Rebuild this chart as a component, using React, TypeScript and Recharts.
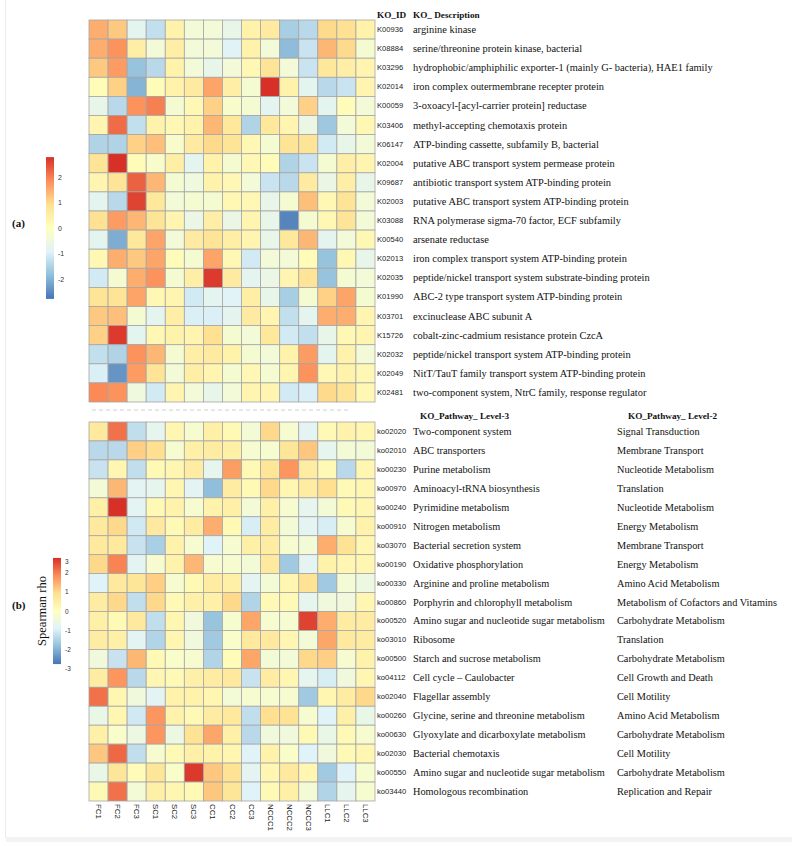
import React from 'react';
import { ScatterChart, Scatter, XAxis, YAxis } from 'recharts';

const samples = ['FC1', 'FC2', 'FC3', 'SC1', 'SC2', 'SC3', 'CC1', 'CC2', 'CC3', 'NCCC1', 'NCCC2', 'NCCC3', 'LLC1', 'LLC2', 'LLC3'];

const koIds = ['K00936', 'K08884', 'K03296', 'K02014', 'K00059', 'K03406', 'K06147', 'K02004', 'K09687', 'K02003', 'K03088', 'K00540', 'K02013', 'K02035', 'K01990', 'K03701', 'K15726', 'K02032', 'K02049', 'K02481'];

const koDescriptions = [
  'arginine kinase',
  'serine/threonine protein kinase, bacterial',
  'hydrophobic/amphiphilic exporter-1 (mainly G- bacteria), HAE1 family',
  'iron complex outermembrane recepter protein',
  '3-oxoacyl-[acyl-carrier protein] reductase',
  'methyl-accepting chemotaxis protein',
  'ATP-binding cassette, subfamily B, bacterial',
  'putative ABC transport system permease protein',
  'antibiotic transport system ATP-binding protein',
  'putative ABC transport system ATP-binding protein',
  'RNA polymerase sigma-70 factor, ECF subfamily',
  'arsenate reductase',
  'iron complex transport system ATP-binding protein',
  'peptide/nickel transport system substrate-binding protein',
  'ABC-2 type transport system ATP-binding protein',
  'excinuclease ABC subunit A',
  'cobalt-zinc-cadmium resistance protein CzcA',
  'peptide/nickel transport system ATP-binding protein',
  'NitT/TauT family transport system ATP-binding protein',
  'two-component system, NtrC family, response regulator',
];

const koRows: number[][] = [
  [1.5, 1.2, -0.8, -1.3, 0.4, -0.4, -0.4, -0.7, 0.4, 0.6, -1.6, -1.4, 1.0, 0.9, 0.4],
  [1.5, 1.8, 0.5, -0.4, 0.5, -0.4, -0.4, -0.9, 0.4, -0.4, -1.9, -1.2, 1.4, 1.0, -0.3],
  [1.2, 1.7, -1.8, -1.4, 0.4, -0.4, -0.7, -0.4, 0.2, 0.8, -0.4, -1.2, 0.7, 0.5, 0.3],
  [0.1, 1.1, -2.0, 0.1, 0.4, 0.6, 1.6, 0.5, -0.3, 2.8, 0.4, -0.8, -1.4, -1.2, 0.3],
  [-0.7, -1.4, 1.8, 2.0, -0.3, 0.2, 1.1, -0.2, -0.3, -0.8, -0.4, 1.1, -0.8, 0.1, -0.4],
  [0.3, 2.2, -1.3, 0.4, 0.2, 0.4, 1.4, 0.7, -1.5, 0.7, 0.3, -0.6, -1.7, -0.4, 0.2],
  [-1.5, -1.5, 1.1, 1.3, -0.2, 0.6, 1.0, 0.8, 0.2, -0.3, 0.8, 0.8, -1.1, -0.7, -0.4],
  [0.8, 2.8, 0.1, -0.2, 0.5, -0.8, 0.4, -0.3, 0.2, 0.1, -1.5, -1.2, -0.3, 0.5, 0.3],
  [0.3, 0.8, 2.3, 1.4, -0.3, -0.5, 0.4, 0.2, -0.4, -1.2, -1.4, 0.6, -0.6, 0.5, -0.7],
  [-0.8, -1.4, 2.6, 0.7, -0.4, -0.3, -0.3, 0.2, 0.2, -0.7, -0.3, 1.3, 0.2, 0.8, -0.4],
  [0.9, 1.7, 1.4, 0.8, 0.3, -0.6, 0.5, -0.6, 0.3, -0.7, -2.6, -0.3, 0.2, 0.8, -0.4],
  [-0.8, -2.1, 0.7, 1.6, -0.4, 0.6, 0.8, 0.5, 0.3, -0.7, 0.7, 1.4, -0.8, -0.4, 0.2],
  [0.2, 1.5, 1.2, 1.6, 0.1, -0.3, 1.6, 0.2, -1.1, -0.4, -0.4, 0.1, -1.8, 0.2, -0.7],
  [-1.1, -0.3, 1.5, 1.8, -0.3, 0.5, 2.7, 0.6, -0.8, -0.6, 0.3, 0.8, -1.8, -0.3, -0.4],
  [0.8, 0.8, 1.6, 0.2, 0.3, -1.1, -0.8, -0.9, 0.5, -0.7, -1.6, -0.3, 1.1, 1.6, -0.3],
  [1.2, 1.3, -0.3, -0.8, 0.5, -1.0, -1.0, -0.8, 0.6, 0.3, -1.3, -0.8, 1.5, 1.5, 0.3],
  [1.1, 2.7, -0.8, 0.2, 0.4, 0.3, 0.9, -0.3, -0.4, 0.7, -1.1, -1.3, -0.7, 0.2, 0.3],
  [-1.3, -1.5, 1.8, 1.4, -0.3, 0.5, 0.6, 0.4, -0.3, -0.4, 0.4, 1.7, -0.8, 0.4, -0.4],
  [-1.0, -2.4, 1.7, 0.8, -0.4, 0.5, 0.3, -0.3, 0.2, -0.3, 0.3, 1.8, 0.2, 0.4, 0.2],
  [1.9, 1.8, -0.5, -1.1, 0.3, -0.4, -0.7, -0.4, 0.3, 0.3, -1.1, -1.0, 1.0, 0.8, 0.2],
];

const pathwayIds = ['ko02020', 'ko02010', 'ko00230', 'ko00970', 'ko00240', 'ko00910', 'ko03070', 'ko00190', 'ko00330', 'ko00860', 'ko00520', 'ko03010', 'ko00500', 'ko04112', 'ko02040', 'ko00260', 'ko00630', 'ko02030', 'ko00550', 'ko03440'];

const pathwayLevel3 = [
  'Two-component system',
  'ABC transporters',
  'Purine metabolism',
  'Aminoacyl-tRNA biosynthesis',
  'Pyrimidine metabolism',
  'Nitrogen metabolism',
  'Bacterial secretion system',
  'Oxidative phosphorylation',
  'Arginine and proline metabolism',
  'Porphyrin and chlorophyll metabolism',
  'Amino sugar and nucleotide sugar metabolism',
  'Ribosome',
  'Starch and sucrose metabolism',
  'Cell cycle \u2013 Caulobacter',
  'Flagellar assembly',
  'Glycine, serine and threonine metabolism',
  'Glyoxylate and dicarboxylate metabolism',
  'Bacterial chemotaxis',
  'Amino sugar and nucleotide sugar metabolism',
  'Homologous recombination',
];

const pathwayLevel2 = [
  'Signal Transduction',
  'Membrane Transport',
  'Nucleotide Metabolism',
  'Translation',
  'Nucleotide Metabolism',
  'Energy Metabolism',
  'Membrane Transport',
  'Energy Metabolism',
  'Amino Acid Metabolism',
  'Metabolism of Cofactors and Vitamins',
  'Carbohydrate Metabolism',
  'Translation',
  'Carbohydrate Metabolism',
  'Cell Growth and Death',
  'Cell Motility',
  'Amino Acid Metabolism',
  'Carbohydrate Metabolism',
  'Cell Motility',
  'Carbohydrate Metabolism',
  'Replication and Repair',
];

const pathwayRows: number[][] = [
  [0.7, 2.3, -1.4, -0.8, 0.3, -0.3, 0.5, 0.2, -0.4, 1.1, -0.3, -0.9, 0.2, 0.4, 0.3],
  [-1.5, -1.5, 1.2, 1.0, -0.3, 0.5, 0.6, 0.5, -0.3, -0.3, 0.8, 1.3, -0.8, -0.4, -0.4],
  [-1.3, 0.3, -1.4, 0.2, 0.3, 0.6, -0.8, 1.8, 0.2, 0.8, 1.9, 0.6, 0.2, -1.5, 0.3],
  [-0.4, 1.5, -0.9, -0.8, 0.3, -0.9, -2.0, 0.6, 0.2, 1.1, 0.3, 0.6, 1.0, 0.2, 0.3],
  [0.5, 3.0, -0.9, 0.2, 0.4, -0.3, 0.4, 0.5, -0.4, 0.5, -0.3, -0.8, -0.4, 0.2, 0.3],
  [0.7, 1.1, -1.2, 0.7, 0.2, 0.6, 1.6, 0.2, -1.1, 0.6, -0.4, -0.9, -1.1, -0.3, 0.4],
  [0.7, 0.7, -1.3, -1.7, 0.4, -0.3, -1.0, -0.3, 0.5, 0.6, -0.3, -0.4, 1.6, 0.9, 0.3],
  [1.1, 2.1, -0.9, -0.3, 0.4, 1.5, -0.3, -0.3, -0.4, 0.7, -1.8, -0.9, 0.4, 0.3, 0.3],
  [-1.0, 0.7, 0.8, 1.2, -0.3, 0.2, 0.6, 0.5, -0.9, -0.4, 0.3, 0.9, -1.8, -0.4, -0.6],
  [0.6, 1.1, -1.4, 1.1, 0.2, 0.5, 0.5, 1.1, -1.6, 0.2, 0.2, -0.8, -0.5, -0.5, 0.3],
  [0.5, 0.2, 0.7, -1.4, 0.3, -0.5, -1.9, -0.3, 1.7, -0.3, -0.3, 2.8, 1.6, 0.6, 0.6],
  [0.6, 0.5, -0.9, -1.6, 0.3, -0.5, -1.8, -0.2, 0.7, 0.7, 0.3, -0.4, 1.7, 0.7, 0.6],
  [-0.5, -1.3, 1.5, 0.2, -0.2, -0.3, -1.6, 0.1, 1.7, -0.4, -0.4, 1.1, 1.2, -0.3, 0.4],
  [0.6, 1.9, -1.5, 0.3, 0.2, 0.5, 0.6, 0.7, -1.3, 0.6, 0.3, -0.8, -1.1, -0.5, 0.3],
  [2.3, 0.3, -0.5, -0.9, 0.4, 0.4, 0.3, -0.4, -0.3, -0.3, -0.3, -1.8, 0.3, 0.6, 1.1],
  [-0.7, 0.3, -1.2, 1.9, 0.4, 0.2, 0.6, 0.7, -1.4, 1.0, 0.9, -0.3, -1.0, 0.5, -0.7],
  [0.5, -0.2, -0.6, 1.9, -0.6, 0.9, 1.7, 0.5, -1.5, -0.5, -0.5, 0.2, -0.7, 0.2, -0.3],
  [1.3, 2.4, -1.4, -0.3, 0.2, 0.5, 0.4, 0.3, -1.0, 0.4, -0.2, -1.0, -0.5, 0.2, 0.3],
  [-0.7, 0.8, 0.1, 0.8, -0.2, 2.9, 1.3, 0.9, -0.9, 0.3, 0.7, 0.3, -1.8, -1.0, -0.3],
  [0.2, 2.3, -0.4, 0.5, 0.3, 0.2, 1.3, 0.8, -1.0, 0.2, 0.5, -0.4, -1.6, -0.8, -0.3],
];

const scaleA = [2, 1, 0, -1, -2];
const scaleB = [3, 2, 1, 0, -1, -2, -3];

// ---------- layout ----------
const W = 792;
const H = 846;
const GRID_L = 89;
const GRID_R = 375;
const A_TOP = 20;
const A_BOT = 402;
const B_TOP = 422;
const B_BOT = 801;

const SERIF = '"Liberation Serif", "Times New Roman", serif';
const SANS = '"Liberation Sans", Arial, sans-serif';

const STOPS = ['#4575B4', '#91BFDB', '#E0F3F8', '#FFFFBF', '#FEE090', '#FC8D59', '#D73027'];

function hexToRgb(h: string) {
  return [parseInt(h.slice(1, 3), 16), parseInt(h.slice(3, 5), 16), parseInt(h.slice(5, 7), 16)];
}

function colorFor(v: number, max: number) {
  let t = (v + max) / (2 * max);
  t = Math.max(0, Math.min(1, t));
  const p = t * (STOPS.length - 1);
  const i = Math.min(STOPS.length - 2, Math.floor(p));
  const f = p - i;
  const a = hexToRgb(STOPS[i]);
  const b = hexToRgb(STOPS[i + 1]);
  const c = a.map((x, k) => Math.round(x + (b[k] - x) * f));
  return `rgb(${c[0]},${c[1]},${c[2]})`;
}

const toCells = (rows: number[][]) =>
  rows.flatMap((r, i) => r.map((v, j) => ({ col: j, row: i, v })));

const koData = toCells(koRows);
const pathwayData = toCells(pathwayRows);
const rowTicks = koIds.map((_, i) => i);
const colTicks = samples.map((_, i) => i);

const makeCell = (cw: number, ch: number, max: number) => (props: any) => {
  const { cx, cy, payload } = props;
  if (cx == null || cy == null) return <g />;
  return (
    <rect
      x={cx - cw / 2}
      y={cy - ch / 2}
      width={cw}
      height={ch}
      fill={colorFor(payload.v, max)}
      stroke="#a6a6a6"
      strokeWidth={0.8}
    />
  );
};

const KoTick = (props: any) => {
  const { x, y, payload } = props;
  const i = payload.value;
  return (
    <g>
      <text x={x + 2} y={y} dominantBaseline="central" fontFamily={SANS} fontSize={7.6} fill="#222">
        {koIds[i]}
      </text>
      <text x={x + 38} y={y} dominantBaseline="central" fontFamily={SERIF} fontSize={10.4} fill="#111">
        {koDescriptions[i]}
      </text>
    </g>
  );
};

const PathTick = (props: any) => {
  const { x, y, payload } = props;
  const i = payload.value;
  return (
    <g>
      <text x={x + 2} y={y} dominantBaseline="central" fontFamily={SANS} fontSize={7.6} fill="#222">
        {pathwayIds[i]}
      </text>
      <text x={x + 38} y={y} dominantBaseline="central" fontFamily={SERIF} fontSize={10.3} fill="#111">
        {pathwayLevel3[i]}
      </text>
      <text x={x + 242} y={y} dominantBaseline="central" fontFamily={SERIF} fontSize={10.3} fill="#111">
        {pathwayLevel2[i]}
      </text>
    </g>
  );
};

const SampleTick = (props: any) => {
  const { x, y, payload } = props;
  return (
    <text
      transform={`translate(${x},${y + 3}) rotate(90)`}
      textAnchor="start"
      dominantBaseline="central"
      fontFamily={SANS}
      fontSize={7.8}
      fill="#222"
    >
      {samples[payload.value]}
    </text>
  );
};

const AXIS_W = 400;
const XAXIS_H = 40;

export default function App() {
  const cw = (GRID_R - GRID_L) / samples.length;
  const chA = (A_BOT - A_TOP) / koIds.length;
  const chB = (B_BOT - B_TOP) / pathwayIds.length;

  // colorbar geometry
  const aZero = 228;
  const aUnit = 25.5;
  const aMax = 2.78;
  const bZero = 611;
  const bUnit = 19.3;

  return (
    <div style={{ position: 'absolute', left: 0, top: 0, width: W, height: H, background: '#fff' }}>
      <svg width={W} height={H} style={{ position: 'absolute', left: 0, top: 0 }}>
        <defs>
          <linearGradient id="gradA" x1="0" y1="0" x2="0" y2="1">
            {STOPS.slice().reverse().map((c, i) => (
              <stop key={i} offset={`${(i / (STOPS.length - 1)) * 100}%`} stopColor={c} />
            ))}
          </linearGradient>
        </defs>
        <line x1={5.5} y1={0} x2={5.5} y2={838} stroke="#ececec" strokeWidth={1} />
        <rect x={6} y={837} width={786} height={5} fill="#f3f3f3" />

        {/* panel (a) */}
        <text x={12} y={227} fontFamily={SERIF} fontWeight="bold" fontSize={11} fill="#111">(a)</text>
        <rect x={46} y={aZero - aMax * aUnit} width={8} height={2 * aMax * aUnit} fill="url(#gradA)" />
        {scaleA.map((v) => (
          <text key={v} x={58} y={aZero - v * aUnit} dominantBaseline="central" fontFamily={SANS} fontSize={7} fill="#333">
            {v}
          </text>
        ))}
        <text x={377} y={18} fontFamily={SERIF} fontWeight="bold" fontSize={9.2} fill="#111">KO_ID</text>
        <text x={413} y={18} fontFamily={SERIF} fontWeight="bold" fontSize={9.2} fill="#111">KO_ Description</text>

        <line x1={92} y1={410} x2={350} y2={410} stroke="#d0d0d0" strokeWidth={1} strokeDasharray="4 3" />

        {/* panel (b) */}
        <text x={12} y={609} fontFamily={SERIF} fontWeight="bold" fontSize={11} fill="#111">(b)</text>
        <text
          transform={`translate(46,${bZero}) rotate(-90)`}
          textAnchor="middle"
          fontFamily={SERIF}
          fontSize={12.5}
          fill="#111"
        >
          Spearman rho
        </text>
        <rect x={53} y={bZero - 2.75 * bUnit} width={8} height={5.5 * bUnit} fill="url(#gradA)" />
        {scaleB.map((v) => (
          <text
            key={v}
            x={65}
            y={Math.max(bZero - v * bUnit, 561)}
            dominantBaseline="central"
            fontFamily={SANS}
            fontSize={6.5}
            fill="#333"
          >
            {v}
          </text>
        ))}
        <text x={420} y={419} fontFamily={SERIF} fontWeight="bold" fontSize={9.2} fill="#111">KO_Pathway_ Level-3</text>
        <text x={628} y={419} fontFamily={SERIF} fontWeight="bold" fontSize={9.2} fill="#111">KO_Pathway_ Level-2</text>
      </svg>

      <div style={{ position: 'absolute', left: 0, top: 0 }}>
        <ScatterChart
          width={W}
          height={H}
          margin={{ top: A_TOP, left: GRID_L, right: W - GRID_R - AXIS_W, bottom: H - A_BOT }}
        >
          <XAxis type="number" dataKey="col" domain={[-0.5, samples.length - 0.5]} hide />
          <YAxis
            type="number"
            dataKey="row"
            domain={[-0.5, koIds.length - 0.5]}
            reversed
            orientation="right"
            ticks={rowTicks}
            interval={0}
            width={AXIS_W}
            tickSize={0}
            tickMargin={0}
            axisLine={false}
            tickLine={false}
            tick={<KoTick />}
          />
          <Scatter data={koData} isAnimationActive={false} shape={makeCell(cw, chA, 2.8)} />
        </ScatterChart>
      </div>

      <div style={{ position: 'absolute', left: 0, top: 0 }}>
        <ScatterChart
          width={W}
          height={H}
          margin={{ top: B_TOP, left: GRID_L, right: W - GRID_R - AXIS_W, bottom: H - B_BOT - XAXIS_H }}
        >
          <XAxis
            type="number"
            dataKey="col"
            domain={[-0.5, samples.length - 0.5]}
            ticks={colTicks}
            interval={0}
            height={XAXIS_H}
            tickSize={0}
            tickMargin={0}
            axisLine={false}
            tickLine={false}
            tick={<SampleTick />}
          />
          <YAxis
            type="number"
            dataKey="row"
            domain={[-0.5, pathwayIds.length - 0.5]}
            reversed
            orientation="right"
            ticks={rowTicks}
            interval={0}
            width={AXIS_W}
            tickSize={0}
            tickMargin={0}
            axisLine={false}
            tickLine={false}
            tick={<PathTick />}
          />
          <Scatter data={pathwayData} isAnimationActive={false} shape={makeCell(cw, chB, 3)} />
        </ScatterChart>
      </div>
    </div>
  );
}
